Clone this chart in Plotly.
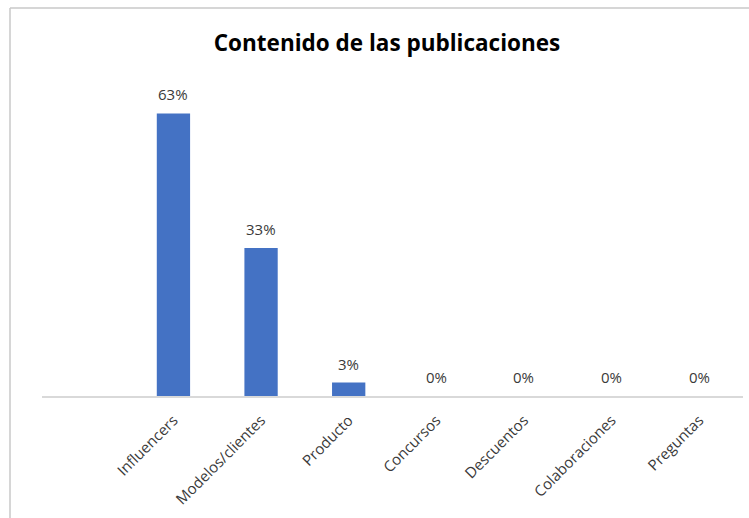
import plotly.graph_objects as go

# Share of posts by content type (%)
categories = ["Influencers", "Modelos/clientes", "Producto", "Concursos",
              "Descuentos", "Colaboraciones", "Preguntas"]
values = [63, 33, 3, 0, 0, 0, 0]
labels = [f"{v}%" for v in values]
positions = list(range(1, len(categories) + 1))

W, H = 749, 518
ml, mr, mt, mb = 42, 6, 82, 122
FONT = "Open Sans, sans-serif"

fig = go.Figure(go.Bar(
    x=positions,
    y=values,
    marker=dict(color="#4472C4", line=dict(width=0)),
    width=0.38,
    hoverinfo="skip",
))

# Value labels above each bar
for xp, v, lab in zip(positions, values, labels):
    fig.add_annotation(x=xp, y=v, text=lab, showarrow=False,
                       yanchor="middle", yshift=19,
                       font=dict(family=FONT, size=15, color="#3a3a3a"))

# Outer frame (top and left edges of the chart area)
px = lambda v: (v - ml) / (W - ml - mr)
py = lambda v: (H - mb - v) / (H - mt - mb)
fig.add_shape(type="line", xref="paper", yref="paper",
              x0=px(10), x1=px(W), y0=py(8), y1=py(8),
              line=dict(color="#c8c8c8", width=1.5))
fig.add_shape(type="line", xref="paper", yref="paper",
              x0=px(10), x1=px(10), y0=py(8), y1=py(H),
              line=dict(color="#c8c8c8", width=1.5))

fig.update_layout(
    width=W, height=H,
    margin=dict(l=ml, r=mr, t=mt, b=mb),
    paper_bgcolor="white", plot_bgcolor="white",
    showlegend=False,
    title=dict(text="<b>Contenido de las publicaciones</b>",
               x=px(387), xanchor="center", xref="paper",
               y=1 - 43 / H, yanchor="middle",
               font=dict(family=FONT, size=22.5, color="#000000")),
    xaxis=dict(range=[-0.5, len(categories) + 0.5],
               tickmode="array", tickvals=positions, ticktext=categories,
               tickangle=-45, showgrid=False, zeroline=False,
               showline=True, linecolor="#d9d9d9", linewidth=1.5,
               ticks="", ticklabelstandoff=8,
               tickfont=dict(family=FONT, size=15, color="#3a3a3a")),
    yaxis=dict(range=[0, 70], visible=False, showgrid=False, zeroline=False),
)

fig.write_html("out.html")
